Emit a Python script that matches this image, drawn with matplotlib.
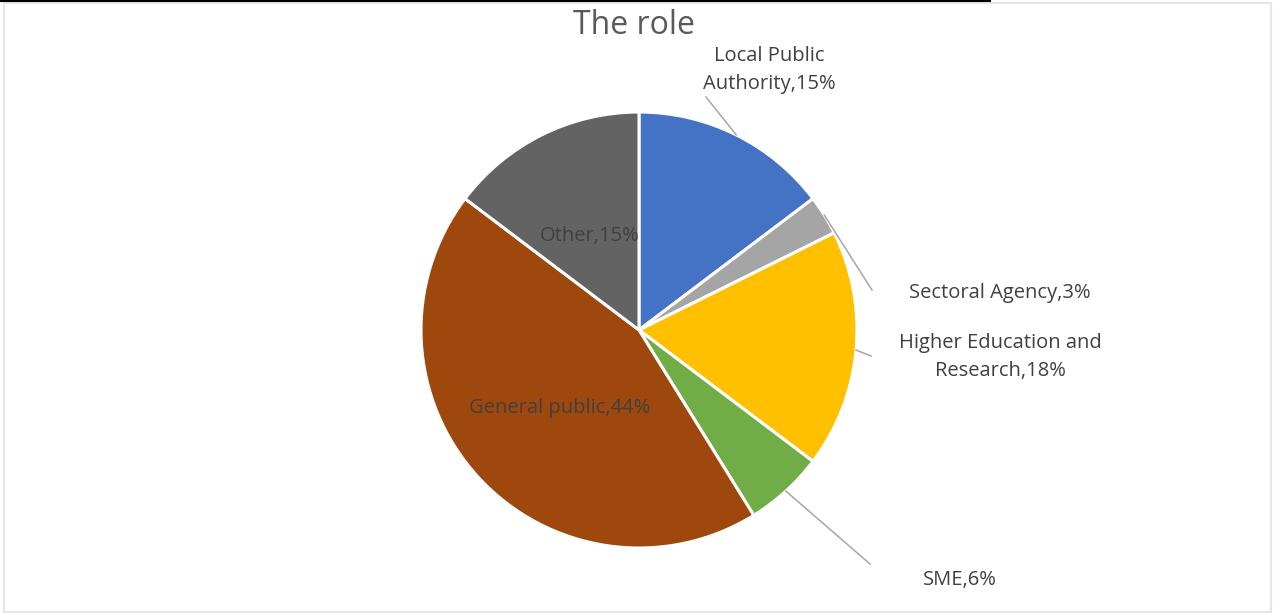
import numpy as np
import matplotlib
matplotlib.use("Agg")
import matplotlib.pyplot as plt
from matplotlib.lines import Line2D
from matplotlib.patches import Rectangle

# Respondent counts per role
roles = ["Local Public\nAuthority", "Sectoral Agency", "Higher Education and\nResearch",
         "SME", "General public", "Other"]
counts = [10, 2, 12, 4, 30, 10]
colors = ["#4472C4", "#A5A5A5", "#FFC000", "#70AD47", "#9E480E", "#636363"]
title = "The role"

plt.rcParams["font.family"] = ["Open Sans", "DejaVu Sans"]

W, H = 1275, 614
fig = plt.figure(figsize=(W / 100, H / 100), dpi=100)
ax = fig.add_axes([0, 0, 1, 1])

cx, cy, R = 639, H - 330, 218
wedges, _ = ax.pie(counts, colors=colors, startangle=90, counterclock=False,
                   center=(cx, cy), radius=R, frame=True,
                   wedgeprops=dict(edgecolor="white", linewidth=2.2))
ax.set_xlim(0, W)
ax.set_ylim(0, H)
ax.set_aspect("equal")
ax.axis("off")

total = sum(counts)
pcts = [round(100 * c / total) for c in counts]
labels = [f"{r},{p}%" for r, p in zip(roles, pcts)]

txt_color = "#404040"
fs = 14.5
# label anchor positions (pixel, from top-left) and whether a leader line is drawn
label_pos = [(769, 70, True), (1000, 293, True), (1000, 357, True),
             (960, 580, True), (560, 408, False), (590, 236, False)]
leader_end = [(706, 97), (872, 290), (871, 356), (870, 564), None, None]

for w, lab, (lx, ly, lead), le in zip(wedges, labels, label_pos, leader_end):
    mid = np.deg2rad((w.theta1 + w.theta2) / 2)
    ax.text(lx, H - ly, lab, ha="center", va="center", fontsize=fs,
            color=txt_color, linespacing=1.48)
    if lead:
        x0 = cx + R * np.cos(mid)
        y0 = cy + R * np.sin(mid)
        ax.add_line(Line2D([x0, le[0]], [y0, H - le[1]], color="#A6A6A6", lw=1.1))

ax.text(634, H - 25, title, ha="center", va="center", fontsize=23, color="#595959")

# outer frame
fig.add_artist(Rectangle((4 / W, 2 / H), (W - 8) / W, (H - 5) / H, transform=fig.transFigure,
                         fill=False, edgecolor="#E6E6E6", lw=1.5))
fig.add_artist(Line2D([0, 990 / W], [1 - 1 / H, 1 - 1 / H], transform=fig.transFigure,
                      color="black", lw=1.5))

fig.savefig("out.png", dpi=100, facecolor="white")
